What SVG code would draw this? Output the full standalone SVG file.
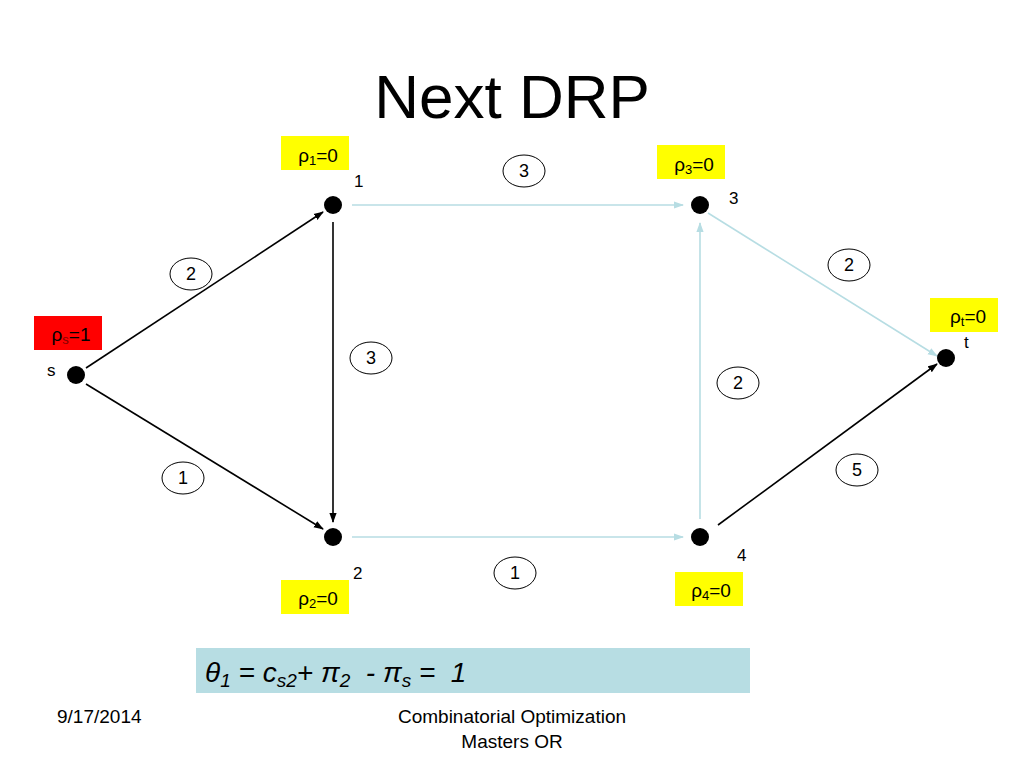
<svg xmlns="http://www.w3.org/2000/svg" width="1024" height="768" viewBox="0 0 1024 768">
<defs>
<marker id="ab" viewBox="0 0 10 10" refX="9" refY="5" markerWidth="10" markerHeight="8" orient="auto" markerUnits="userSpaceOnUse" preserveAspectRatio="none"><path d="M0,0.5 L10,5 L0,9.5 z" fill="#000"/></marker>
<marker id="al" viewBox="0 0 10 10" refX="9" refY="5" markerWidth="10" markerHeight="8" orient="auto" markerUnits="userSpaceOnUse" preserveAspectRatio="none"><path d="M0,0.5 L10,5 L0,9.5 z" fill="#b7dde3"/></marker>
</defs>
<style>
text{font-family:"Liberation Sans",Arial,sans-serif;fill:#000}
.node{fill:#000}
.blk{stroke:#000;stroke-width:1.6;fill:none}
.lb{stroke:#b7dde3;stroke-width:1.6;fill:none}
.w{fill:#fff;stroke:#000;stroke-width:1}
.wt{font-size:18px;text-anchor:middle}
.nl{font-size:17px}
.rho{font-size:19px;text-anchor:middle}
.y{fill:#ffff00}
</style>
<rect width="1024" height="768" fill="#fff"/>
<text x="512" y="118" font-size="62" text-anchor="middle">Next DRP</text>
<g id="connectors">
<line class="blk" x1="86" y1="368" x2="323" y2="212" marker-end="url(#ab)"/>
<line class="blk" x1="86" y1="384" x2="323" y2="529" marker-end="url(#ab)"/>
<line class="blk" x1="333" y1="222" x2="333" y2="522" marker-end="url(#ab)"/>
<line class="lb" x1="352" y1="205" x2="683" y2="205" marker-end="url(#al)"/>
<line class="lb" x1="352" y1="537" x2="683" y2="537" marker-end="url(#al)"/>
<line class="lb" x1="700" y1="519" x2="700" y2="223" marker-end="url(#al)"/>
<line class="lb" x1="708" y1="213" x2="937" y2="356" marker-end="url(#al)"/>
<line class="blk" x1="718" y1="525" x2="937" y2="364" marker-end="url(#ab)"/>
<ellipse class="w" cx="191" cy="274" rx="21" ry="16"/><text class="wt" x="191" y="280">2</text>
<ellipse class="w" cx="371" cy="358" rx="21" ry="16"/><text class="wt" x="371" y="364">3</text>
<ellipse class="w" cx="183" cy="478" rx="21" ry="16"/><text class="wt" x="183" y="484">1</text>
<ellipse class="w" cx="524" cy="171" rx="21" ry="16"/><text class="wt" x="524" y="177">3</text>
<ellipse class="w" cx="515" cy="573" rx="21" ry="16"/><text class="wt" x="515" y="579">1</text>
<ellipse class="w" cx="849" cy="265" rx="21" ry="16"/><text class="wt" x="849" y="271">2</text>
<ellipse class="w" cx="738" cy="383" rx="21" ry="16"/><text class="wt" x="738" y="389">2</text>
<ellipse class="w" cx="857" cy="470" rx="21" ry="16"/><text class="wt" x="857" y="476">5</text>
</g>
<g id="node-s">
<circle class="node" cx="76" cy="375" r="9"/>
<text class="nl" x="47" y="376">s</text>
<rect x="34" y="316" width="68" height="34" fill="#ff0000"/>
<text class="rho" x="71" y="341">ρ<tspan font-size="13" dy="3" fill="#800000">s</tspan><tspan dy="-3">=1</tspan></text>
</g>
<g id="node-1">
<circle class="node" cx="333" cy="205" r="9"/>
<text class="nl" x="354" y="187">1</text>
<rect class="y" x="281" y="136" width="68" height="34"/>
<text class="rho" x="318" y="162">ρ<tspan font-size="13" dy="3">1</tspan><tspan dy="-3">=0</tspan></text>
</g>
<g id="node-3">
<circle class="node" cx="700" cy="205" r="9"/>
<text class="nl" x="729" y="204">3</text>
<rect class="y" x="657" y="145" width="68" height="34"/>
<text class="rho" x="694" y="171">ρ<tspan font-size="13" dy="3">3</tspan><tspan dy="-3">=0</tspan></text>
</g>
<g id="node-t">
<circle class="node" cx="946" cy="358" r="9"/>
<text class="nl" x="964" y="348">t</text>
<rect class="y" x="930" y="298" width="68" height="34"/>
<text class="rho" x="968" y="323">ρ<tspan font-size="13" dy="3">t</tspan><tspan dy="-3">=0</tspan></text>
</g>
<g id="node-2">
<circle class="node" cx="333" cy="537" r="9"/>
<text class="nl" x="353" y="579">2</text>
<rect class="y" x="281" y="580" width="68" height="34"/>
<text class="rho" x="318" y="605">ρ<tspan font-size="13" dy="3">2</tspan><tspan dy="-3">=0</tspan></text>
</g>
<g id="node-4">
<circle class="node" cx="700" cy="537" r="9"/>
<text class="nl" x="737" y="561">4</text>
<rect class="y" x="675" y="572" width="68" height="34"/>
<text class="rho" x="711" y="597">ρ<tspan font-size="13" dy="3">4</tspan><tspan dy="-3">=0</tspan></text>
</g>
<g id="formula">
<rect x="196" y="648" width="554" height="45" fill="#b7dde3"/>
<text x="205" y="682" font-size="28" font-style="italic" xml:space="preserve">θ<tspan font-size="19" dy="5">1</tspan><tspan dy="-5"> = c</tspan><tspan font-size="19" dy="5">s2</tspan><tspan dy="-5">+ π</tspan><tspan font-size="19" dy="5">2</tspan><tspan dy="-5">  - π</tspan><tspan font-size="19" dy="5">s</tspan><tspan dy="-5"> =  1</tspan></text>
</g>
<text x="57" y="723" font-size="19">9/17/2014</text>
<text x="512" y="723" font-size="19" text-anchor="middle">Combinatorial Optimization</text>
<text x="512" y="748" font-size="19" text-anchor="middle">Masters OR</text>
</svg>
